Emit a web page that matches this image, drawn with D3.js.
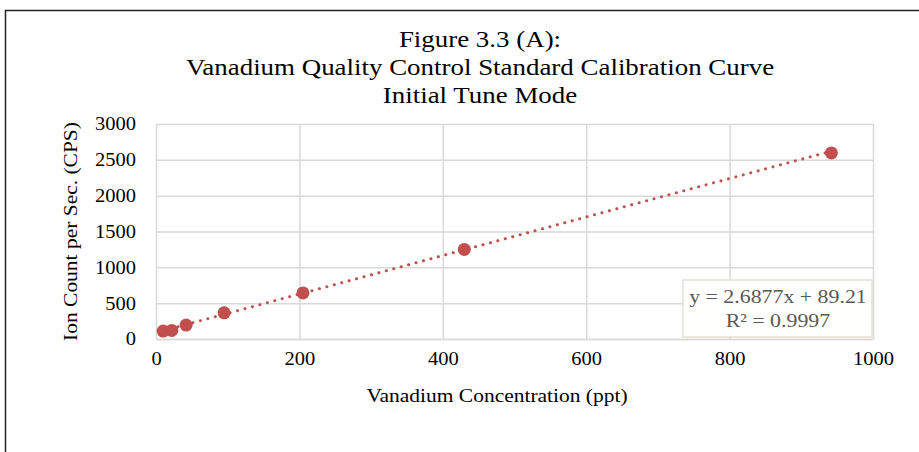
<!DOCTYPE html>
<html>
<head>
<meta charset="utf-8">
<script src="https://cdn.jsdelivr.net/npm/d3@7"></script>
<style>
  body { margin: 0; background: #fff; }
  svg { display: block; }
  svg text { font-family: "Liberation Serif", "Times New Roman", serif; }
  .grid line { stroke: #d9d9d9; stroke-width: 1.5; }
  .tick text { fill: #000; font-size: 18px; }
</style>
</head>
<body>
<svg class="chart"></svg>
<script>
// values
var concentration = [10, 22, 42, 95, 205, 430, 942];
var ionCount = [111, 120, 194, 365, 643, 1250, 2597];
var xTicks = [0, 200, 400, 600, 800, 1000];
var yTicks = [0, 500, 1000, 1500, 2000, 2500, 3000];
var titleLines = ["Figure 3.3 (A):", "Vanadium Quality Control Standard Calibration Curve", "Initial Tune Mode"];
var slope = 2.6877;
var intercept = 89.21;
var eqLines = ["y = 2.6877x + 89.21", "R\u00b2 = 0.9997"];

var W = 919, H = 452;
var margin = {top: 124, right: 46, bottom: 113, left: 156};
var width = W - margin.left - margin.right;
var height = H - margin.top - margin.bottom;
var red = "#c0504d";

// the reference text is a little wider than plain Times, so widen it
function stretch(sel, k){
    sel.each(function(){
        var len = this.getComputedTextLength();
        d3.select(this).attr("textLength", len * k).attr("lengthAdjust", "spacingAndGlyphs");
    });
}

var svg = d3.select(".chart").attr("width", W).attr("height", H);

// outer frame
svg.append("rect")
    .attr("x", 5.5).attr("y", 10.5)
    .attr("width", W + 10).attr("height", H + 10)
    .attr("fill", "none").attr("stroke", "#222").attr("stroke-width", 1.5);

svg.selectAll(".title")
    .data(titleLines)
    .enter().append("text")
    .attr("class", "title")
    .attr("x", 480)
    .attr("y", function(d, i){ return 47 + i * 28; })
    .attr("text-anchor", "middle")
    .style("font-size", "23px")
    .text(function(d){ return d; })
    .call(stretch, 1.17);

var chart = svg.append("g")
    .attr("transform", "translate(" + margin.left + "," + margin.top + ")");

var x = d3.scaleLinear().domain([0, 1000]).range([0, width]);
var y = d3.scaleLinear().domain([0, 3000]).range([height, 0]);

chart.append("g")
    .attr("class", "grid")
    .call(d3.axisLeft(y).tickValues(yTicks).tickSize(-width).tickFormat(""))
    .call(function(g){ g.select(".domain").remove(); });

chart.append("g")
    .attr("class", "grid")
    .attr("transform", "translate(0," + height + ")")
    .call(d3.axisBottom(x).tickValues(xTicks).tickSize(-height).tickFormat(""))
    .call(function(g){ g.select(".domain").remove(); });

var yAxis = chart.append("g")
    .call(d3.axisLeft(y).tickValues(yTicks).tickSize(0).tickPadding(20).tickFormat(d3.format("d")));
yAxis.select(".domain").remove();
yAxis.selectAll("text").attr("dy", "0.33em").call(stretch, 1.14);

var xAxis = chart.append("g")
    .attr("transform", "translate(0," + height + ")")
    .call(d3.axisBottom(x).tickValues(xTicks).tickSize(0).tickPadding(13).tickFormat(d3.format("d")));
xAxis.select(".domain").attr("stroke", "#d9d9d9").attr("stroke-width", 1.5);
xAxis.selectAll("text").call(stretch, 1.14);

// trendline
var xr = d3.extent(concentration);
chart.append("line")
    .attr("x1", x(xr[0])).attr("y1", y(slope * xr[0] + intercept))
    .attr("x2", x(xr[1])).attr("y2", y(slope * xr[1] + intercept))
    .attr("stroke", red)
    .attr("stroke-width", 3)
    .attr("stroke-linecap", "round")
    .attr("stroke-dasharray", "0.1,7.6");

chart.selectAll(".pt")
    .data(concentration)
    .enter().append("circle")
    .attr("class", "pt")
    .attr("cx", function(d){ return x(d); })
    .attr("cy", function(d, i){ return y(ionCount[i]); })
    .attr("r", 6.5)
    .attr("fill", red);

// equation label
var eq = svg.append("g").attr("transform", "translate(683,280)");
eq.append("rect")
    .attr("width", 189).attr("height", 57)
    .attr("fill", "#fffffe").attr("stroke", "#e4e1d8").attr("stroke-width", 1.5);
eq.selectAll("text")
    .data(eqLines)
    .enter().append("text")
    .attr("x", 95)
    .attr("y", function(d, i){ return 23 + i * 24; })
    .attr("text-anchor", "middle")
    .attr("fill", "#595959")
    .style("font-size", "19px")
    .text(function(d){ return d; })
    .call(stretch, 1.15);

svg.append("text")
    .attr("transform", "translate(77," + (margin.top + height / 2) + ") rotate(-90)")
    .attr("text-anchor", "middle")
    .style("font-size", "19px")
    .text("Ion Count per Sec. (CPS)")
    .call(stretch, 1.13);

svg.append("text")
    .attr("x", 497).attr("y", 402)
    .attr("text-anchor", "middle")
    .style("font-size", "19px")
    .text("Vanadium Concentration (ppt)")
    .call(stretch, 1.13);
</script>
</body>
</html>
